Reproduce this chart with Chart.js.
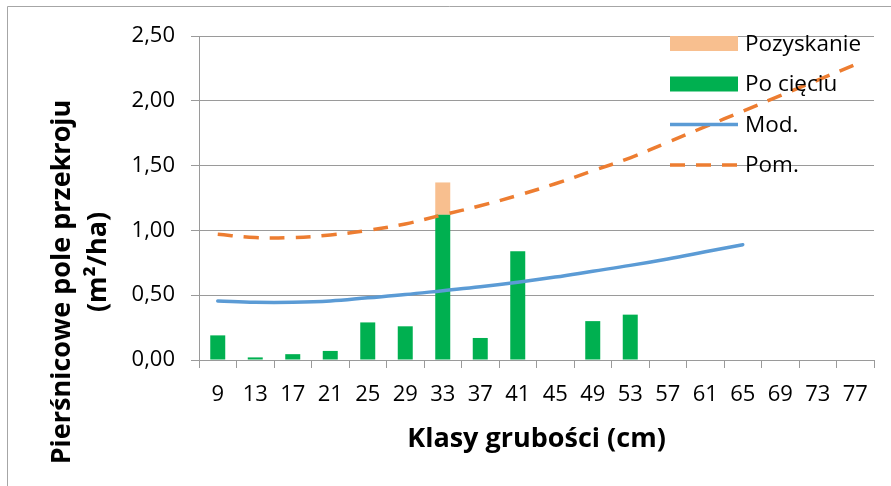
<!DOCTYPE html>
<html>
<head>
<meta charset="utf-8">
<script src="https://cdn.jsdelivr.net/npm/chart.js@4.4.1/dist/chart.umd.min.js"></script>
<style>
  html, body { margin: 0; padding: 0; background: #fff; }
  #wrap { position: relative; width: 891px; height: 486px; }
</style>
</head>
<body>
<div id="wrap"><canvas id="chart" width="891" height="486"></canvas></div>
<script>
// klasy grubości (cm)
const classes = ['9', '13', '17', '21', '25', '29', '33', '37', '41', '45', '49', '53', '57', '61', '65', '69', '73', '77'];
// m2/ha
const poCieciu   = [0.19, 0.02, 0.045, 0.07, 0.29, 0.26, 1.12, 0.17, 0.84, null, 0.30, 0.35, null, null, null, null, null, null];
const pozyskanie = [null, null, null, null, null, null, 0.25, null, null, null, null, null, null, null, null, null, null, null];
const modLine    = [0.455, 0.445, 0.445, 0.455, 0.48, 0.505, 0.535, 0.565, 0.60, 0.64, 0.685, 0.73, 0.78, 0.835, 0.89, null, null, null];
const pomLine    = [0.97, 0.945, 0.945, 0.965, 1.00, 1.05, 1.12, 1.19, 1.27, 1.36, 1.46, 1.56, 1.68, 1.80, 1.92, 2.04, 2.16, 2.28];
const yTicks = [0, 0.5, 1, 1.5, 2, 2.5];

const C = { green: '#00B050', peach: '#F8BF8F', blue: '#5B9BD5', orange: '#ED7D31', grid: '#9a9a9a', text: '#000' };
const FONT = '"Open Sans", "Liberation Sans", sans-serif';
const fmt = v => v.toFixed(2).replace('.', ',');

// legend + titles + frame, drawn by hand (Excel-style overlay legend)
const decor = {
  id: 'decor',
  beforeDraw(chart) {
    const ctx = chart.ctx;
    ctx.save();
    ctx.strokeStyle = '#a6a6a6';
    ctx.lineWidth = 1;
    ctx.beginPath();
    ctx.moveTo(7.5, 486); ctx.lineTo(7.5, 6.5); ctx.lineTo(891, 6.5);
    ctx.stroke();
    ctx.restore();
  },
  afterDraw(chart) {
    const ctx = chart.ctx, area = chart.chartArea;
    const ds = chart.data.datasets;
    ctx.save();
    ctx.fillStyle = C.text;

    // y title, two lines
    ctx.font = 'bold 27px ' + FONT;
    ctx.textAlign = 'center';
    ctx.textBaseline = 'alphabetic';
    [['Pierśnicowe pole przekroju', 69.5, 282], ['(m²/ha)', 106, 262]].forEach(([t, x, y]) => {
      ctx.save(); ctx.translate(x, y); ctx.rotate(-Math.PI / 2); ctx.fillText(t, 0, 0); ctx.restore();
    });
    // x title
    ctx.fillText('Klasy grubości (cm)', (area.left + area.right) / 2, 447);

    // legend
    const x0 = 670, w = 68, rowH = 40.5, y0 = 43.5;
    ctx.font = '22.5px ' + FONT;
    ctx.textAlign = 'left';
    ctx.textBaseline = 'middle';
    [1, 0, 2, 3].forEach((i, row) => {
      const d = ds[i], y = y0 + row * rowH;
      if (d.type === 'line') {
        ctx.strokeStyle = d.borderColor;
        ctx.lineWidth = d.borderWidth;
        ctx.setLineDash(d.borderDash || []);
        ctx.beginPath(); ctx.moveTo(x0, y); ctx.lineTo(x0 + w, y); ctx.stroke();
        ctx.setLineDash([]);
      } else {
        ctx.fillStyle = d.backgroundColor;
        ctx.fillRect(x0, y - 7.5, w, 15);
      }
      ctx.fillStyle = C.text;
      ctx.fillText(d.label, 745, y + 1);
    });
    ctx.restore();
  }
};

new Chart(document.getElementById('chart'), {
  type: 'bar',
  data: {
    labels: classes,
    datasets: [
      { label: 'Po cięciu', data: poCieciu, backgroundColor: C.green, stack: 'bars', order: 2, categoryPercentage: 0.4, barPercentage: 1 },
      { label: 'Pozyskanie', data: pozyskanie, backgroundColor: C.peach, stack: 'bars', order: 2, categoryPercentage: 0.4, barPercentage: 1 },
      { type: 'line', label: 'Mod.', data: modLine, borderColor: C.blue, borderWidth: 3.5, tension: 0.4, pointRadius: 0, stack: 'mod', order: 1, borderCapStyle: 'round', spanGaps: false },
      { type: 'line', label: 'Pom.', data: pomLine, borderColor: C.orange, borderWidth: 3.5, borderDash: [15, 11], tension: 0.4, pointRadius: 0, stack: 'pom', order: 1 }
    ]
  },
  options: {
    responsive: false,
    animation: false,
    devicePixelRatio: 1,
    layout: { padding: { left: 0, top: 36, right: 17, bottom: 0 } },
    plugins: { legend: { display: false }, tooltip: { enabled: false } },
    scales: {
      x: {
        stacked: true,
        afterFit: s => { s.height = 126; },
        grid: { offset: true, drawOnChartArea: false, drawTicks: true, tickLength: 8, color: C.grid },
        border: { color: C.grid },
        ticks: { color: C.text, font: { family: FONT, size: 22 }, padding: 14, maxRotation: 0, autoSkip: false }
      },
      y: {
        stacked: true,
        min: 0, max: 2.5,
        afterFit: s => { s.width = 199; },
        afterBuildTicks: s => { s.ticks = yTicks.map(v => ({ value: v })); },
        grid: { color: C.grid, tickLength: 8 },
        border: { color: C.grid },
        ticks: { color: C.text, font: { family: FONT, size: 22 }, padding: 16, callback: v => fmt(v) }
      }
    }
  },
  plugins: [decor]
});
</script>
</body>
</html>
